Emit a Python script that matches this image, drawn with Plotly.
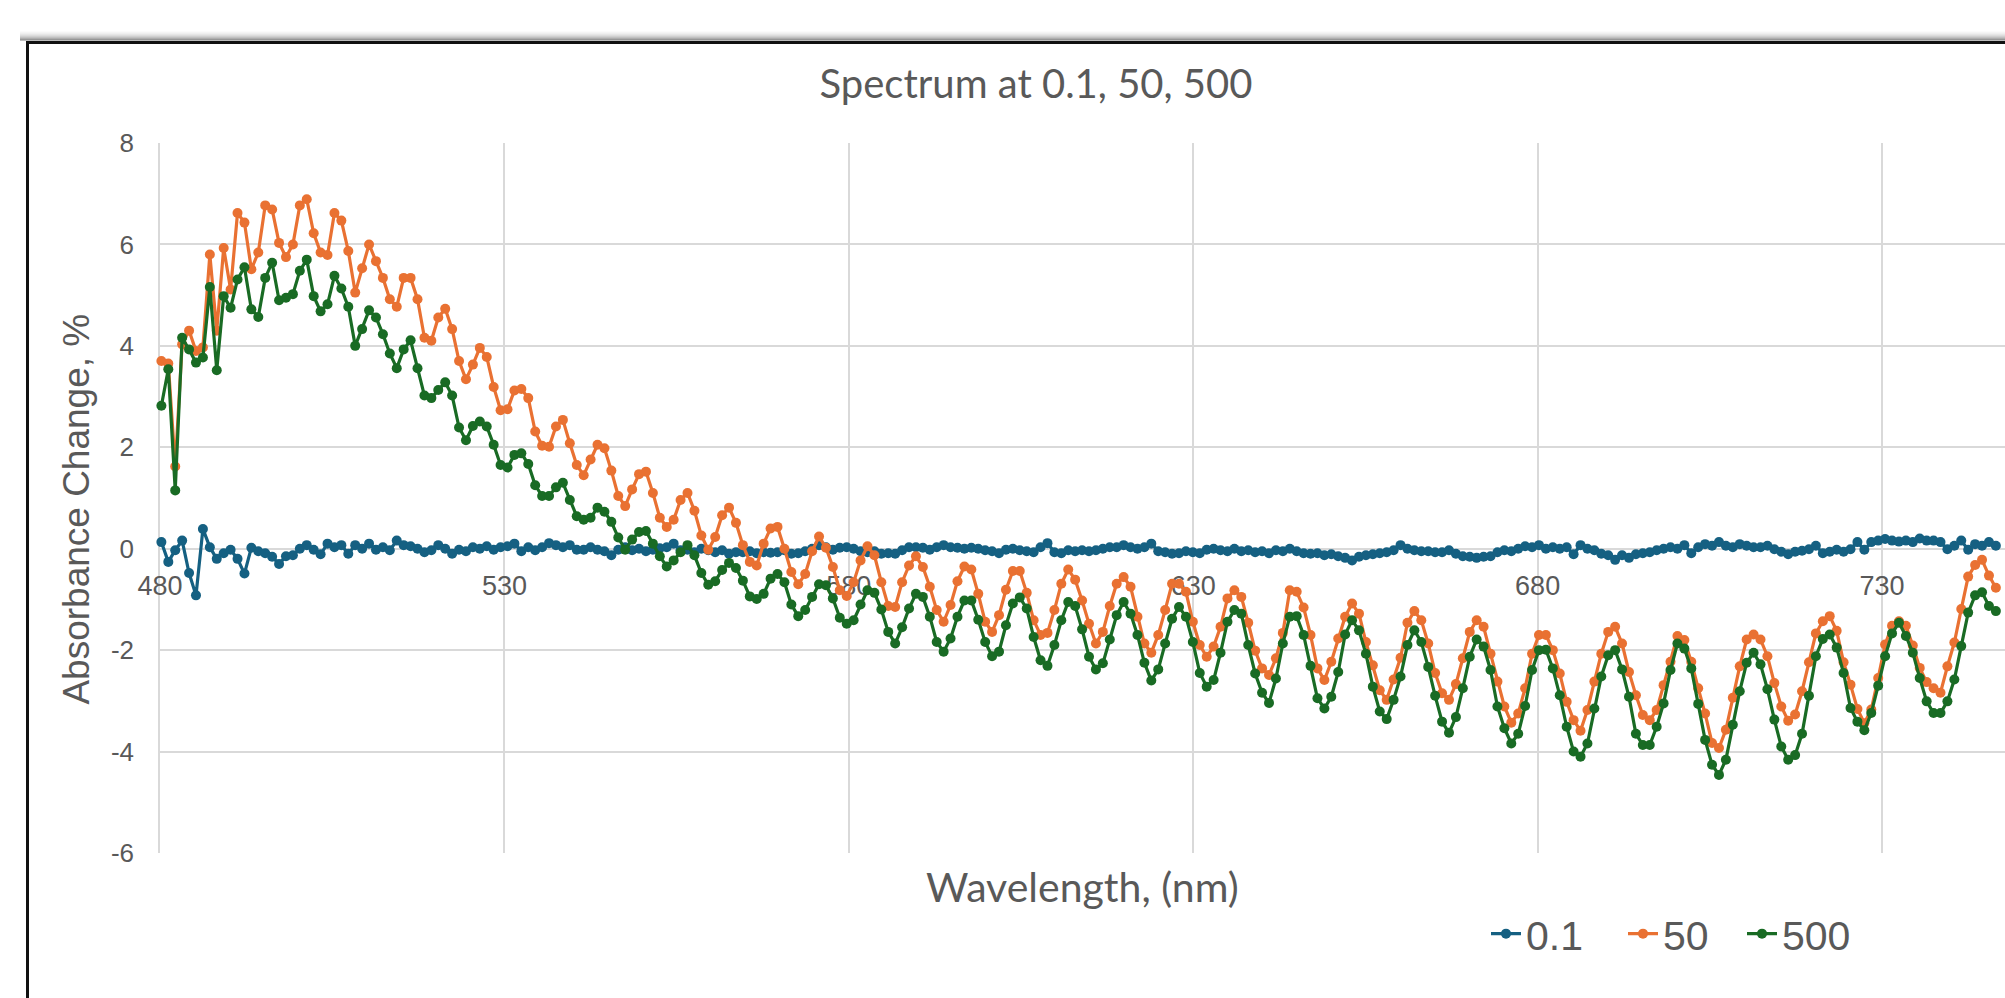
import plotly.graph_objects as go

# ---------------- data ----------------
WL_START = 480.2   # nm, first sample
WL_STEP = 1.005    # nm between samples

abs_01 = [
    0.13, -0.26, -0.03, 0.16, -0.48, -0.92, 0.39, 0.03, -0.20, -0.09,
    -0.02, -0.20, -0.49, 0.02, -0.05, -0.09, -0.16, -0.30, -0.15, -0.13,
    0.00, 0.07, -0.02, -0.11, 0.10, 0.03, 0.07, -0.10, 0.07, 0.00,
    0.10, -0.02, 0.03, -0.03, 0.16, 0.07, 0.05, 0.00, -0.07, -0.03,
    0.07, 0.00, -0.10, -0.02, -0.05,
    0.03, 0.00, 0.05, -0.02, 0.03, 0.05, 0.10, -0.05, 0.03, -0.03,
    0.03, 0.11, 0.07, 0.03, 0.07, -0.02, -0.02, 0.03, -0.02, -0.05,
    -0.13, -0.02, 0.03, -0.03, 0.00, -0.05, -0.02, 0.01, 0.03, 0.10,
    -0.03, -0.02, -0.07, 0.00, -0.03, -0.07, -0.03, -0.10, -0.07, -0.07,
    -0.05, -0.09, -0.07, -0.08, -0.07,
    -0.03, -0.10, -0.09, -0.05, 0.00, 0.07, 0.03, -0.02, 0.02, 0.03,
    0.00, -0.05, -0.07, -0.05, -0.10, -0.09, -0.10, -0.03, 0.03, 0.03,
    0.02, -0.02, 0.03, 0.07, 0.03, 0.02, 0.00, 0.02, 0.00, -0.03,
    -0.05, -0.09, -0.02, 0.00, -0.03, -0.05, -0.07, 0.03, 0.11, -0.07,
    -0.09, -0.03, -0.05, -0.03, -0.05,
    -0.03, 0.00, 0.03, 0.03, 0.07, 0.03, 0.00, 0.03, 0.10, -0.05,
    -0.07, -0.10, -0.09, -0.05, -0.07, -0.09, -0.02, 0.00, -0.03, -0.05,
    0.00, -0.05, -0.03, -0.07, -0.05, -0.09, -0.03, -0.05, 0.00, -0.05,
    -0.09, -0.10, -0.09, -0.13, -0.11, -0.15, -0.18, -0.23, -0.16, -0.13,
    -0.11, -0.09, -0.07, -0.03, 0.07,
    0.00, -0.03, -0.05, -0.05, -0.07, -0.07, -0.03, -0.10, -0.15, -0.16,
    -0.18, -0.16, -0.15, -0.07, -0.03, -0.05, 0.00, 0.05, 0.03, 0.07,
    0.00, 0.03, 0.00, 0.03, -0.11, 0.07, 0.00, -0.03, -0.10, -0.13,
    -0.22, -0.13, -0.18, -0.11, -0.09, -0.07, -0.03, 0.00, 0.03, 0.00,
    0.07, -0.09, 0.03, 0.09,
    0.06, 0.13, 0.06, 0.03, 0.09, 0.06, 0.03, 0.03, 0.06, -0.01,
    -0.06, -0.11, -0.06, -0.04, -0.01, 0.06, -0.09, -0.06, -0.02, -0.06,
    -0.01, 0.13, -0.02, 0.13, 0.16, 0.19, 0.16, 0.14, 0.16, 0.13,
    0.20, 0.16, 0.16, 0.13, -0.01, 0.06, 0.16, -0.02, 0.09, 0.06,
    0.13, 0.06,
]

abs_50 = [
    3.70, 3.65, 1.62, 4.03, 4.30, 3.90, 3.97, 5.80, 4.30, 5.93,
    5.11, 6.62, 6.43, 5.51, 5.84, 6.77, 6.69, 6.03, 5.75, 6.00,
    6.77, 6.89, 6.22, 5.84, 5.79, 6.62, 6.47, 5.87, 5.05, 5.53,
    6.00, 5.67, 5.34, 4.92, 4.77, 5.34, 5.34, 4.92, 4.16, 4.10,
    4.56, 4.73, 4.33, 3.70, 3.34,
    3.63, 3.96, 3.78, 3.19, 2.73, 2.75, 3.12, 3.15, 2.97, 2.31,
    2.03, 2.01, 2.41, 2.54, 2.08, 1.65, 1.45, 1.76, 2.05, 1.98,
    1.54, 1.04, 0.84, 1.17, 1.47, 1.52, 1.10, 0.61, 0.43, 0.57,
    0.96, 1.10, 0.75, 0.26, -0.02, 0.23, 0.66, 0.81, 0.51, 0.07,
    -0.26, -0.33, 0.10, 0.40, 0.43,
    0.00, -0.46, -0.70, -0.50, -0.05, 0.24, 0.02, -0.36, -0.82, -0.93,
    -0.66, -0.23, 0.05, -0.13, -0.66, -1.13, -1.15, -0.66, -0.33, -0.15,
    -0.36, -0.75, -1.21, -1.44, -1.11, -0.64, -0.35, -0.41, -0.89, -1.44,
    -1.64, -1.31, -0.81, -0.44, -0.44, -0.87, -1.41, -1.70, -1.66, -1.21,
    -0.69, -0.41, -0.61, -1.02, -1.48,
    -1.87, -1.64, -1.13, -0.69, -0.56, -0.75, -1.34, -1.87, -2.05, -1.70,
    -1.21, -0.69, -0.69, -0.85, -1.44, -1.90, -2.13, -1.93, -1.54, -0.98,
    -0.82, -0.95, -1.46, -2.01, -2.36, -2.49, -2.16, -1.66, -0.82, -0.85,
    -1.16, -1.70, -2.36, -2.59, -2.23, -1.77, -1.34, -1.08, -1.28, -1.84,
    -2.30, -2.79, -2.98, -2.58, -2.15,
    -1.46, -1.23, -1.41, -1.87, -2.45, -2.85, -2.98, -2.67, -2.16, -1.64,
    -1.41, -1.54, -2.07, -2.62, -3.11, -3.43, -3.25, -2.75, -2.07, -1.70,
    -1.70, -2.00, -2.46, -3.02, -3.38, -3.59, -3.18, -2.62, -2.07, -1.64,
    -1.54, -1.87, -2.43, -2.89, -3.28, -3.38, -3.18, -2.69, -2.23, -1.72,
    -1.80, -2.23, -2.75, -3.25,
    -3.83, -3.93, -3.57, -2.94, -2.32, -1.79, -1.69, -1.79, -2.12, -2.65,
    -3.11, -3.39, -3.27, -2.81, -2.24, -1.67, -1.43, -1.33, -1.62, -2.24,
    -2.68, -3.16, -3.44, -3.17, -2.55, -1.89, -1.52, -1.43, -1.52, -1.91,
    -2.35, -2.63, -2.75, -2.84, -2.32, -1.85, -1.19, -0.55, -0.32, -0.22,
    -0.53, -0.77,
]

abs_500 = [
    2.82, 3.54, 1.15, 4.16, 3.93, 3.67, 3.77, 5.16, 3.52, 4.98,
    4.75, 5.31, 5.55, 4.72, 4.57, 5.34, 5.64, 4.90, 4.95, 5.02,
    5.48, 5.70, 4.98, 4.68, 4.82, 5.38, 5.13, 4.77, 4.00, 4.33,
    4.70, 4.56, 4.23, 3.85, 3.56, 3.93, 4.11, 3.56, 3.02, 2.97,
    3.13, 3.28, 3.02, 2.39, 2.14,
    2.42, 2.51, 2.41, 2.05, 1.65, 1.60, 1.85, 1.88, 1.67, 1.25,
    1.04, 1.04, 1.21, 1.30, 0.96, 0.64, 0.57, 0.61, 0.81, 0.73,
    0.53, 0.22, -0.02, 0.18, 0.33, 0.35, 0.10, -0.15, -0.35, -0.23,
    -0.07, 0.07, -0.13, -0.48, -0.71, -0.64, -0.42, -0.28, -0.38, -0.63,
    -0.94, -0.99, -0.89, -0.59, -0.50,
    -0.66, -1.10, -1.33, -1.21, -0.95, -0.70, -0.72, -0.98, -1.36, -1.48,
    -1.41, -1.10, -0.82, -0.87, -1.20, -1.64, -1.87, -1.55, -1.18, -0.89,
    -0.95, -1.34, -1.84, -2.03, -1.77, -1.34, -1.02, -1.02, -1.40, -1.84,
    -2.12, -2.03, -1.51, -1.08, -0.96, -1.18, -1.74, -2.20, -2.31, -1.90,
    -1.41, -1.05, -1.13, -1.59, -2.13,
    -2.38, -2.26, -1.79, -1.31, -1.05, -1.28, -1.70, -2.25, -2.60, -2.38,
    -1.87, -1.38, -1.15, -1.34, -1.84, -2.45, -2.72, -2.59, -2.05, -1.44,
    -1.21, -1.28, -1.90, -2.46, -2.84, -3.04, -2.56, -1.87, -1.34, -1.33,
    -1.70, -2.31, -2.95, -3.15, -2.92, -2.43, -1.69, -1.41, -1.61, -2.07,
    -2.72, -3.21, -3.36, -2.98, -2.52,
    -1.90, -1.61, -1.84, -2.33, -2.90, -3.41, -3.63, -3.32, -2.75, -2.13,
    -1.79, -1.93, -2.39, -3.11, -3.54, -3.84, -3.65, -3.10, -2.39, -2.00,
    -1.99, -2.36, -2.89, -3.51, -4.00, -4.10, -3.84, -3.15, -2.52, -2.10,
    -2.00, -2.38, -2.92, -3.65, -3.87, -3.87, -3.51, -3.05, -2.39, -1.87,
    -1.97, -2.36, -3.06, -3.77,
    -4.26, -4.46, -4.16, -3.47, -2.81, -2.25, -2.05, -2.28, -2.77, -3.37,
    -3.90, -4.16, -4.07, -3.65, -2.90, -2.12, -1.78, -1.69, -1.95, -2.45,
    -3.14, -3.41, -3.58, -3.24, -2.70, -2.12, -1.67, -1.46, -1.72, -2.05,
    -2.55, -3.01, -3.24, -3.24, -3.01, -2.58, -1.92, -1.26, -0.92, -0.86,
    -1.13, -1.23,
]

n_pts = min(len(abs_01), len(abs_50), len(abs_500))
wavelength = [round(WL_START + WL_STEP * i, 3) for i in range(n_pts)]

series_names = ["0.1", "50", "500"]
series_values = [abs_01[:n_pts], abs_50[:n_pts], abs_500[:n_pts]]
series_colors = ["#156082", "#E97132", "#196B24"]

X_TICKS = [480, 530, 580, 630, 680, 730]
X_TICKTEXT = ["480", "530", "580", "630", "680", "730"]
Y_TICKS = [-6, -4, -2, 0, 2, 4, 6, 8]
Y_TICKTEXT = ["-6", "-4", "-2", "0", "2", "4", "6", "8"]
X_RANGE = [480, 747.85]
Y_RANGE = [-6, 8]

TITLE = "Spectrum at 0.1, 50, 500"
X_TITLE = "Wavelength, (nm)"
Y_TITLE = "Absorbance Change, %"

# ---------------- layout geometry ----------------
W, H = 2005, 998
M_L, M_R, M_T, M_B = 160, 0, 143, 145
PLOT_W = W - M_L - M_R
PLOT_H = H - M_T - M_B
GRID = "#D9D9D9"
TXT = "#595959"
LEGEND_ENTRY_W = [92, 74, 70]   # px width of each legend entry's text slot


def px_x(px):
    return (px - M_L) / PLOT_W


def px_y(py):
    return (H - M_B - py) / PLOT_H


fig = go.Figure()
for name, vals, col, lw in zip(series_names, series_values, series_colors, LEGEND_ENTRY_W):
    fig.add_trace(go.Scatter(
        x=wavelength, y=vals, mode="lines+markers", name=name,
        line=dict(color=col, width=3.2),
        marker=dict(color=col, size=10),
        cliponaxis=False,
        legendwidth=lw,
    ))

zero_pos = (0 - Y_RANGE[0]) / (Y_RANGE[1] - Y_RANGE[0])

shapes = []
# chart frame: soft shadow + black border (left and top)
for k, a in enumerate([0.03, 0.05, 0.08, 0.12, 0.17, 0.23, 0.30, 0.40, 0.52]):
    yy = px_y(32 + k)
    shapes.append(dict(type="line", xref="paper", yref="paper",
                       x0=px_x(20), x1=1.0, y0=yy, y1=yy,
                       line=dict(color=f"rgba(0,0,0,{a})", width=1.2)))
shapes.append(dict(type="line", xref="paper", yref="paper",
                   x0=px_x(26), x1=1.0, y0=px_y(42.5), y1=px_y(42.5),
                   line=dict(color="#111111", width=3)))
shapes.append(dict(type="line", xref="paper", yref="paper",
                   x0=px_x(27.5), x1=px_x(27.5), y0=px_y(41), y1=px_y(H + 5),
                   line=dict(color="#111111", width=3)))

fig.update_layout(
    width=W, height=H,
    margin=dict(l=M_L, r=M_R, t=M_T, b=M_B, pad=0),
    paper_bgcolor="white", plot_bgcolor="white",
    title=dict(text=TITLE, x=1036 / W, xref="container", xanchor="center",
               y=1 - 84 / H, yref="container", yanchor="middle",
               font=dict(family="Lato", size=40, color=TXT)),
    showlegend=True,
    legend=dict(orientation="h", x=px_x(1486), y=px_y(934),
                xanchor="left", yanchor="middle",
                font=dict(family="Liberation Sans", size=41, color=TXT),
                bgcolor="rgba(0,0,0,0)",
                entrywidthmode="pixels"),
    xaxis=dict(range=X_RANGE, tickvals=X_TICKS, ticktext=X_TICKTEXT,
               anchor="free", position=zero_pos,
               showgrid=True, gridcolor=GRID, gridwidth=1.5,
               zeroline=False, showline=False, ticks="",
               ticklabelstandoff=18,
               tickfont=dict(family="Liberation Sans", size=27, color=TXT),
               layer="below traces"),
    yaxis=dict(range=Y_RANGE, tickvals=Y_TICKS, ticktext=Y_TICKTEXT,
               showgrid=True, gridcolor=GRID, gridwidth=1.5,
               zeroline=False, showline=True, linecolor=GRID, linewidth=1.5,
               ticks="", ticklabelstandoff=19,
               tickfont=dict(family="Liberation Sans", size=26, color=TXT),
               layer="below traces"),
    shapes=shapes,
    annotations=[
        dict(text=X_TITLE, xref="paper", yref="paper", x=0.5, y=px_y(886),
             xanchor="center", yanchor="middle", showarrow=False,
             font=dict(family="Lato", size=41, color=TXT)),
        dict(text=Y_TITLE, xref="paper", yref="paper", x=px_x(77), y=px_y(509.6),
             xanchor="center", yanchor="middle", showarrow=False, textangle=-90,
             font=dict(family="Liberation Sans", size=37, color=TXT)),
    ],
)

fig.write_html("out.html", config={"displayModeBar": False},
               post_script="document.body.style.margin='0px';")
